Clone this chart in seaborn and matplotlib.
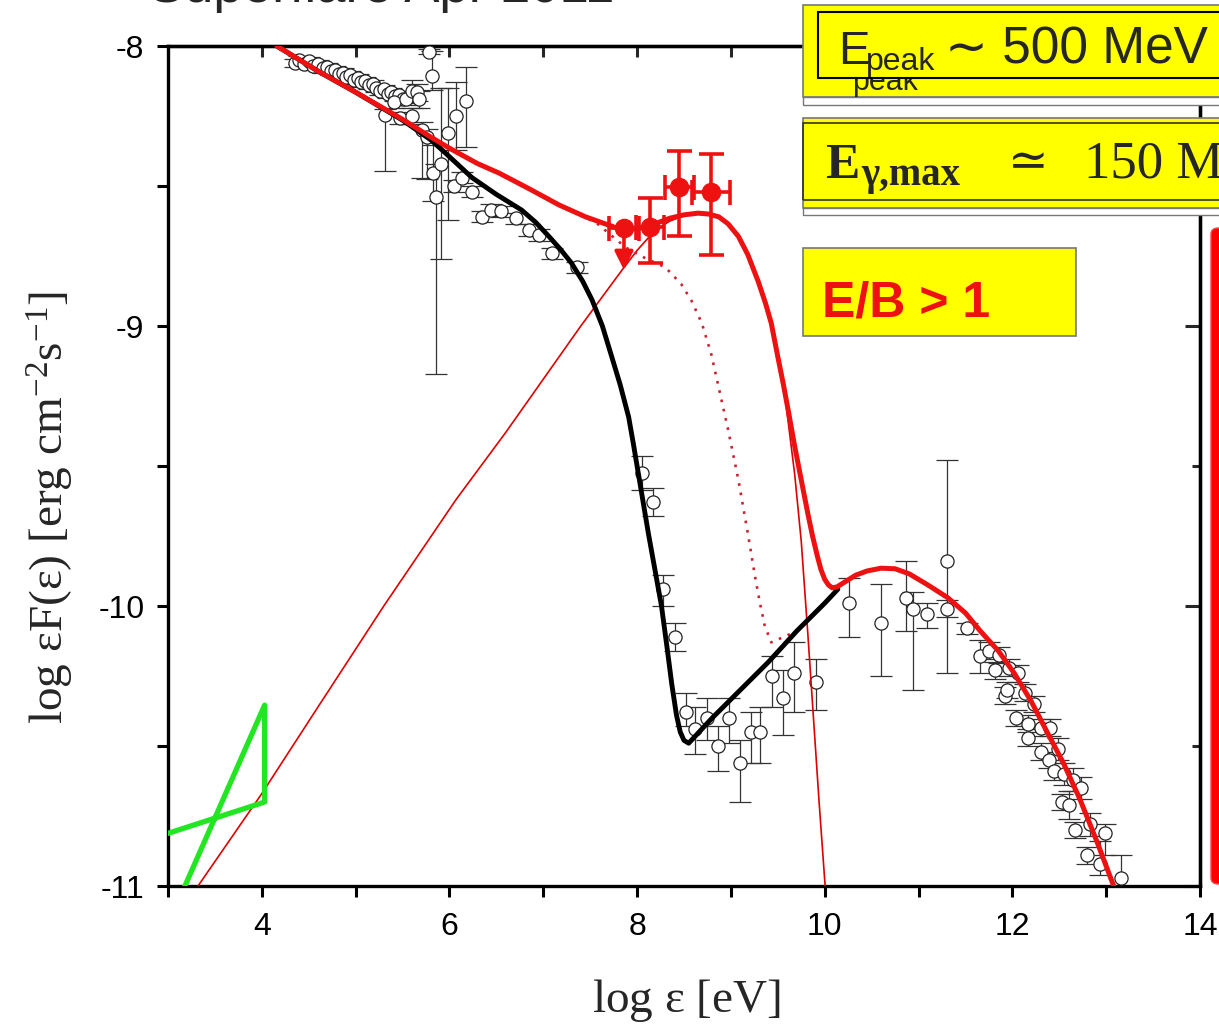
import matplotlib
matplotlib.use("Agg")
import matplotlib.pyplot as plt
import seaborn as sns
from matplotlib.patches import Rectangle, FancyBboxPatch
from matplotlib.ticker import MultipleLocator

# ---- data ----
# model curves (log eps [eV], log eps F(eps))
black_x = [4.16, 4.6, 5.0, 5.5, 5.8, 5.95, 6.24, 6.5, 6.77, 6.92, 7.06, 7.18, 7.30, 7.42,
           7.52, 7.63, 7.73, 7.82, 7.91, 7.96, 8.05, 8.12, 8.19, 8.26, 8.32, 8.37, 8.42,
           8.46, 8.50, 8.55, 8.8, 9.1, 9.4, 9.7, 10.0, 10.14]
black_y = [-8.0, -8.09, -8.165, -8.265, -8.335, -8.38, -8.47, -8.53, -8.586, -8.63, -8.68,
           -8.725, -8.775, -8.84, -8.907, -9.0, -9.11, -9.21, -9.325, -9.42, -9.60, -9.74,
           -9.87, -10.0, -10.15, -10.28, -10.39, -10.45, -10.48, -10.49, -10.40, -10.30,
           -10.20, -10.09, -9.99, -9.94]

total_x = [4.16, 4.6, 5.0, 5.5, 5.8, 6.0, 6.3, 6.53, 6.85, 7.17, 7.45, 7.70, 7.80, 7.90,
           8.0, 8.1, 8.23, 8.35, 8.5, 8.65, 8.76, 8.87, 8.97, 9.08, 9.18, 9.29, 9.37, 9.43,
           9.50, 9.56, 9.61, 9.68, 9.75, 9.82, 9.87, 9.92, 9.96, 10.0, 10.04, 10.08, 10.13,
           10.21, 10.33, 10.45, 10.6, 10.75, 10.9, 11.1, 11.31, 11.5, 11.66, 11.85, 12.02,
           12.2, 12.37, 12.55, 12.72, 12.9, 13.08, 13.15]
total_y = [-8.0, -8.09, -8.165, -8.262, -8.325, -8.365, -8.42, -8.454, -8.51, -8.568, -8.61,
           -8.64, -8.652, -8.655, -8.652, -8.643, -8.63, -8.615, -8.603, -8.597, -8.600,
           -8.61, -8.635, -8.68, -8.745, -8.84, -8.92, -8.99, -9.11, -9.21, -9.30, -9.43,
           -9.55, -9.67, -9.75, -9.82, -9.87, -9.905, -9.925, -9.935, -9.932, -9.915, -9.89,
           -9.875, -9.865, -9.867, -9.885, -9.925, -9.97, -10.025, -10.09, -10.16, -10.24,
           -10.34, -10.45, -10.565, -10.69, -10.84, -11.0, -11.06]

hadron_x = [3.32, 4.0, 4.6, 5.3, 6.07, 6.6, 7.0, 7.4, 7.84, 8.0, 8.12, 8.23, 8.35, 8.5,
            8.65, 8.76, 8.87, 8.97, 9.08, 9.18, 9.29, 9.37, 9.43, 9.50, 9.58, 9.68, 9.75,
            9.82, 9.88, 9.94, 10.0, 10.03]
hadron_y = [-11.0, -10.67, -10.36, -10.0, -9.62, -9.38, -9.19, -9.0, -8.80, -8.73, -8.685,
            -8.65, -8.625, -8.606, -8.598, -8.600, -8.61, -8.635, -8.68, -8.745, -8.84,
            -8.92, -8.99, -9.11, -9.26, -9.53, -9.77, -10.1, -10.4, -10.7, -10.98, -11.1]

dotted_x = [7.3, 7.56, 7.88, 8.1, 8.30, 8.47, 8.58, 8.69, 8.79, 8.87, 8.97, 9.08, 9.18,
            9.26, 9.31, 9.36, 9.43, 9.7, 10.0, 10.14]
dotted_y = [-8.59, -8.63, -8.72, -8.76, -8.79, -8.85, -8.91, -8.99, -9.10, -9.22, -9.37,
            -9.55, -9.74, -9.90, -9.99, -10.07, -10.13, -10.09, -9.99, -9.94]

green_x = [3.0, 4.03, 4.03, 3.0]
green_y = [-10.812, -10.70, -10.354, -11.137]

# open circles: x, y, lower error, upper error
obs_x = [4.35, 4.40, 4.45, 4.50, 4.55, 4.60, 4.65, 4.70, 4.74, 4.78, 4.82, 4.86, 4.90, 4.94,
         4.98, 5.02, 5.06, 5.10, 5.14, 5.18, 5.22, 5.26, 5.30, 5.34, 5.38, 5.42, 5.46, 5.50,
         5.31, 5.41, 5.47, 5.54, 5.60, 5.60, 5.65, 5.68, 5.71, 5.76, 5.78, 5.81, 5.82, 5.86,
         5.91, 5.98, 6.07, 6.18, 6.05, 6.13, 6.24, 6.35, 6.44, 6.55, 6.71, 6.85, 6.95, 7.09,
         7.36, 8.05, 8.17, 8.28, 8.40, 8.52, 8.62, 8.74, 8.86, 8.98, 9.10, 9.21, 9.31, 9.44,
         9.55, 9.67, 9.91, 10.26, 10.60, 10.87, 10.94, 11.09, 11.30, 11.30, 11.52, 11.66,
         11.75, 11.81, 11.86, 11.92, 11.94, 11.96, 12.04, 12.06, 12.14, 12.17, 12.17, 12.23,
         12.30, 12.30, 12.39, 12.40, 12.44, 12.49, 12.53, 12.55, 12.60, 12.65, 12.67, 12.73,
         12.80, 12.83, 12.93, 12.99, 13.16]
obs_y = [-8.06, -8.05, -8.065, -8.055, -8.07, -8.065, -8.08, -8.075, -8.09, -8.085, -8.10,
         -8.095, -8.11, -8.105, -8.12, -8.115, -8.13, -8.125, -8.14, -8.135, -8.15, -8.16,
         -8.155, -8.17, -8.165, -8.18, -8.175, -8.19,
         -8.246, -8.20, -8.257, -8.19, -8.16, -8.25, -8.165, -8.19, -8.30, -8.325, -8.02,
         -8.107, -8.454, -8.54, -8.42, -8.31, -8.25, -8.196, -8.50, -8.47, -8.52, -8.61,
         -8.586, -8.59, -8.615, -8.657, -8.675, -8.74, -8.79, -9.525, -9.63, -9.94, -10.11,
         -10.38, -10.44, -10.40, -10.50, -10.40, -10.56, -10.45, -10.45, -10.25, -10.33,
         -10.24, -10.27, -9.99, -10.06, -9.97, -10.01, -10.03, -9.84, -10.01, -10.08, -10.18,
         -10.16, -10.23, -10.175, -10.32, -10.30, -10.22, -10.40, -10.24, -10.31, -10.42,
         -10.47, -10.35, -10.435, -10.52, -10.55, -10.435, -10.59, -10.51, -10.70, -10.60,
         -10.71, -10.62, -10.80, -10.65, -10.89, -10.78, -10.92, -10.81, -10.97]
obs_lo = [0.015] * 28 + [
    0.20, 0.02, 0.02, 0.02, 0.04, 0.03, 0.03, 0.03, 0.17, 0.15, 0.01, 0.05, 0.10, 0.63,
    0.34, 0.31, 0.12, 0.165, 0.02, 0.02, 0.02, 0.02, 0.02, 0.02, 0.02, 0.02, 0.02, 0.02,
    0.02, 0.06, 0.05, 0.06, 0.05, 0.05, 0.09, 0.08, 0.09, 0.09, 0.14, 0.11, 0.11, 0.11,
    0.13, 0.14, 0.10, 0.12, 0.19, 0.12, 0.29, 0.05, 0.20, 0.23, 0.02, 0.06, 0.03, 0.03,
    0.03, 0.03, 0.03, 0.03, 0.03, 0.03, 0.03, 0.03, 0.03, 0.03, 0.03, 0.03, 0.03, 0.03,
    0.03, 0.04, 0.03, 0.04, 0.05, 0.04, 0.03, 0.04, 0.03, 0.04, 0.04, 0.08, 0.03]
obs_hi = [0.015] * 28 + [
    0.02, 0.02, 0.02, 0.02, 0.04, 0.03, 0.03, 0.03, 0.03, 0.03, 0.01, 0.09, 0.10, 0.12,
    0.27, 0.16, 0.12, 0.12, 0.02, 0.02, 0.02, 0.02, 0.02, 0.02, 0.02, 0.02, 0.02, 0.02,
    0.02, 0.06, 0.05, 0.05, 0.05, 0.07, 0.08, 0.07, 0.07, 0.07, 0.08, 0.07, 0.09, 0.07,
    0.10, 0.11, 0.08, 0.09, 0.14, 0.13, 0.06, 0.04, 0.36, 0.03, 0.02, 0.06, 0.03, 0.03,
    0.03, 0.03, 0.03, 0.03, 0.03, 0.03, 0.03, 0.03, 0.03, 0.03, 0.03, 0.03, 0.03, 0.03,
    0.03, 0.04, 0.03, 0.04, 0.05, 0.04, 0.03, 0.04, 0.03, 0.04, 0.08, 0.03, 0.08]

# red points (flare)
flare_x = [8.14, 8.45, 8.79]
flare_y = [-8.646, -8.504, -8.52]
flare_xerr = [0.15, 0.155, 0.20]
flare_lo = [0.13, 0.176, 0.226]
flare_hi = [0.103, 0.129, 0.134]
ul_x, ul_y, ul_xerr, ul_tip = 7.86, -8.65, 0.16, -8.80

xticks = [4, 6, 8, 10, 12, 14]
yticks = [-8, -9, -10, -11]

RED = "#ee1111"
W, H = 1219, 1028

sns.set_theme(style="ticks")
plt.rcParams["font.family"] = ["Liberation Sans", "DejaVu Sans"]
plt.rcParams["axes.unicode_minus"] = False
plt.rcParams["mathtext.fontset"] = "custom"
plt.rcParams["mathtext.rm"] = "Liberation Serif"
plt.rcParams["mathtext.it"] = "Liberation Serif:italic"
plt.rcParams["mathtext.bf"] = "Liberation Serif:bold"

fig = plt.figure(figsize=(W / 100, H / 100), dpi=100)
fig.patch.set_facecolor("white")
ax = fig.add_axes([168 / W, 1 - 886 / H, 1032 / W, 840 / H])


def fx(px):
    return px / W


def fy(py):
    return 1 - py / H


# data points
ax.errorbar(obs_x, obs_y, yerr=[obs_lo, obs_hi], fmt="none", ecolor="#333333",
            elinewidth=0.9, capsize=8, capthick=0.9, zorder=2)
sns.scatterplot(x=obs_x, y=obs_y, ax=ax, s=90, color="white", edgecolor="#222222",
                linewidth=0.9, zorder=3, legend=False)

# model curves
sns.lineplot(x=hadron_x, y=hadron_y, ax=ax, sort=False, estimator=None, color="#dd0000",
             lw=1.2, zorder=4)
sns.lineplot(x=dotted_x, y=dotted_y, ax=ax, sort=False, estimator=None, color="#cc2233",
             lw=1.9, linestyle=(0, (1, 2.6)), zorder=4)
sns.lineplot(x=black_x, y=black_y, ax=ax, sort=False, estimator=None, color="black",
             lw=3.5, zorder=5)
sns.lineplot(x=total_x, y=total_y, ax=ax, sort=False, estimator=None, color=RED,
             lw=3.6, zorder=6)
sns.lineplot(x=green_x, y=green_y, ax=ax, sort=False, estimator=None, color="#22e622",
             lw=3.8, zorder=6)

# flare points
ax.errorbar(flare_x, flare_y, xerr=flare_xerr, yerr=[flare_lo, flare_hi], fmt="none",
            ecolor=RED, elinewidth=2.6, capsize=9, capthick=2.6, zorder=7)
ax.errorbar([ul_x], [ul_y], xerr=[ul_xerr], fmt="none", ecolor=RED, elinewidth=2.6,
            capsize=9, capthick=2.6, zorder=7)
ax.annotate("", xy=(ul_x, ul_tip), xytext=(ul_x, ul_y),
            arrowprops=dict(arrowstyle="-|>", color=RED, lw=2.6, mutation_scale=28,
                            shrinkA=0, shrinkB=0), zorder=7)
sns.scatterplot(x=flare_x + [ul_x], y=flare_y + [ul_y], ax=ax, s=170, color=RED,
                edgecolor=RED, zorder=8, legend=False)

# axes
ax.set_xlim(3, 14)
ax.set_ylim(-11, -8)
ax.set_xticks(xticks)
ax.set_yticks(yticks)
ax.set_yticklabels([str(v) for v in yticks])
ax.xaxis.set_minor_locator(MultipleLocator(1))
ax.yaxis.set_minor_locator(MultipleLocator(0.5))
ax.tick_params(axis="both", which="both", direction="out", width=2.2, length=8,
               labelsize=23, colors="black")
ax.tick_params(axis="x", which="both", pad=11)
ax.tick_params(axis="y", which="both", pad=9)
ax.set_xlabel("")
ax.set_ylabel("")
for sp in ax.spines.values():
    sp.set_visible(True)
    sp.set_linewidth(2.4)
    sp.set_color("black")

top = ax.secondary_xaxis("top")
top.set_xticks(range(4, 14))
top.tick_params(direction="in", length=8, width=2.2, labeltop=False)
top.spines["top"].set_linewidth(2.4)
right = ax.secondary_yaxis("right")
right.set_yticks(yticks)
right.yaxis.set_minor_locator(MultipleLocator(0.5))
right.tick_params(which="major", direction="in", length=11, width=2.2, labelright=False)
right.tick_params(which="minor", direction="in", length=6, width=2.2)
right.spines["right"].set_linewidth(2.4)

# labels
fig.text(fx(686), fy(1000), r"log $\mathrm{\epsilon}$ [eV]", ha="center", va="center",
         fontsize=34, family="Liberation Serif")
fig.text(fx(50), fy(508), r"log $\mathrm{\epsilon F(\epsilon)}$ [erg cm$^{-2}$s$^{-1}$]",
         ha="center", va="center", rotation=90, fontsize=34, family="Liberation Serif")
fig.text(fx(149), fy(2), "Superflare Apr 2011", fontsize=38, va="baseline",
         family="Liberation Sans")


# annotation boxes (figure pixels, top-left origin)
def box(x0, y0, x1, y1, fc, ec, lw, z):
    fig.patches.append(Rectangle((fx(x0), fy(y1)), (x1 - x0) / W, (y1 - y0) / H,
                                 transform=fig.transFigure, facecolor=fc, edgecolor=ec,
                                 linewidth=lw, zorder=z))


box(803, 5, 1230, 97, "#ffff00", "#777777", 1.2, 5)
box(803, 97, 1230, 105, "white", "#777777", 1.0, 5)
fig.text(fx(852), fy(90), "peak", fontsize=22, va="baseline", zorder=6)
box(818, 12, 1230, 78, "#ffff00", "black", 1.5, 7)
fig.text(fx(838), fy(64), "E", fontsize=34, va="baseline", zorder=8)
fig.text(fx(866), fy(70), "peak", fontsize=23, va="baseline", zorder=8)
fig.text(fx(945), fy(64), "\u223c 500 MeV", fontsize=37, va="baseline", zorder=8,
         family=["Liberation Sans", "DejaVu Sans"])

box(803, 118, 1230, 208, "#ffff00", "#777777", 1.2, 5)
box(803, 123, 1230, 200, "none", "#333333", 1.2, 6)
box(803, 208, 1230, 215, "white", "#777777", 1.0, 5)
fig.text(fx(825), fy(178), "E", fontsize=37, fontweight="bold", va="baseline", zorder=8,
         family="Liberation Serif")
fig.text(fx(861), fy(185), "\u03b3,max", fontsize=28, fontweight="bold", va="baseline",
         zorder=8, family=["Liberation Serif", "DejaVu Serif"])
fig.text(fx(1008), fy(176), "\u2243", fontsize=35, va="baseline", zorder=8,
         family=["DejaVu Serif", "DejaVu Sans"])
fig.text(fx(1084), fy(178), "150 MeV", fontsize=38, va="baseline", zorder=8,
         family="Liberation Serif")

box(803, 248, 1076, 336, "#ffff00", "#777777", 1.2, 5)
fig.text(fx(822), fy(316), "E/B > 1", fontsize=36, fontweight="bold", color=RED,
         va="baseline", zorder=8)

fig.patches.append(FancyBboxPatch((fx(1211), fy(884)), 20 / W, 656 / H,
                                  boxstyle="round,pad=0,rounding_size=0.006",
                                  transform=fig.transFigure, facecolor="#ff0000",
                                  edgecolor="#ff4444", linewidth=1, zorder=5))

fig.savefig("out.png", dpi=100)
